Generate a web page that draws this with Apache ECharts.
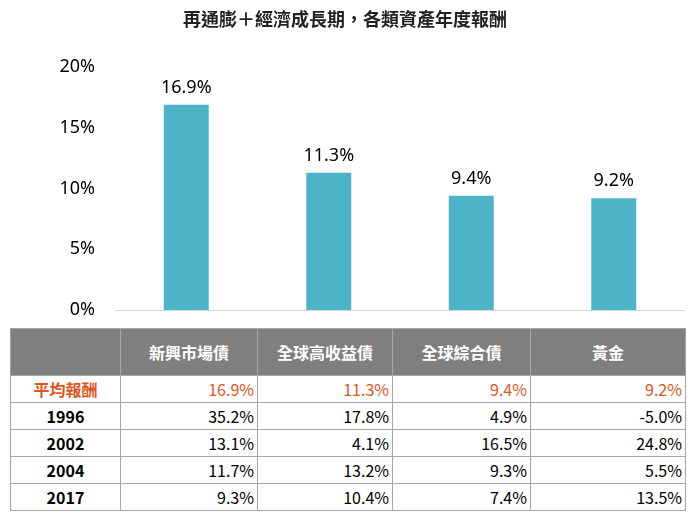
<!DOCTYPE html>
<html><head><meta charset="utf-8">
<script src="https://cdn.jsdelivr.net/npm/echarts@6/dist/echarts.min.js"></script>
<style>
body{margin:0;background:#fff;font-family:"Noto Sans CJK TC","Noto Sans",sans-serif;}
#c{position:absolute;left:0;top:0;width:690px;height:325px;}
table{position:absolute;left:10px;top:328px;border-collapse:collapse;font-size:16px;}
td,th{border:1px solid #a6a6a6;padding:0 3px;}
th{background:#7f7f7f;color:#fff;font-weight:bold;height:46px;}
td{height:26px;text-align:right;color:#000;}
td.l{text-align:center;font-weight:bold;}
tr.avg td{color:#e0561a;}
</style></head><body>
<div id="c"></div>
<table id="t"></table>
<script>
const title = "再通膨＋經濟成長期，各類資產年度報酬";
const categories = ["新興市場債","全球高收益債","全球綜合債","黃金"];
const avgValues = [16.9,11.3,9.4,9.2];
const yTicks = [0,5,10,15,20];
const rowLabels = ["平均報酬","1996","2002","2004","2017"];
const row1996 = [35.2,17.8,4.9,-5.0];
const row2002 = [13.1,4.1,16.5,24.8];
const row2004 = [11.7,13.2,9.3,5.5];
const row2017 = [9.3,10.4,7.4,13.5];

const chart = echarts.init(document.getElementById('c'));
chart.setOption({
  animation:false,
  title:{text:title,left:'center',top:5,textStyle:{fontSize:18,fontWeight:'bold',color:'#222',fontFamily:'Noto Sans CJK TC'}},
  grid:{left:115,right:5,top:67,bottom:15},
  xAxis:{type:'category',data:categories,axisLabel:{show:false},axisTick:{show:false},axisLine:{lineStyle:{color:'#d9d9d9'}}},
  yAxis:{type:'value',min:0,max:20,interval:5,splitLine:{show:false},axisLine:{show:false},axisTick:{show:false},
    axisLabel:{formatter:v=>v+'%',fontSize:18,color:'#000',margin:20,fontFamily:'Noto Sans'}},
  series:[{type:'bar',data:avgValues,barWidth:45,itemStyle:{color:'#4db3c6'},
    label:{show:true,position:'top',formatter:p=>p.value.toFixed(1)+'%',fontSize:18,color:'#000',distance:8,fontFamily:'Noto Sans'}}]
});

const widths=[110,137,135,138,155];
const rows=[avgValues,row1996,row2002,row2004,row2017];
let h='<tr>'+['',...categories].map((c,i)=>`<th style="width:${widths[i]-7}px">${c}</th>`).join('')+'</tr>';
rows.forEach((r,i)=>{
  h+=`<tr class="${i==0?'avg':''}"><td class="l">${rowLabels[i]}</td>`+r.map(v=>`<td>${v.toFixed(1)}%</td>`).join('')+'</tr>';
});
document.getElementById('t').innerHTML=h;
</script></body></html>
